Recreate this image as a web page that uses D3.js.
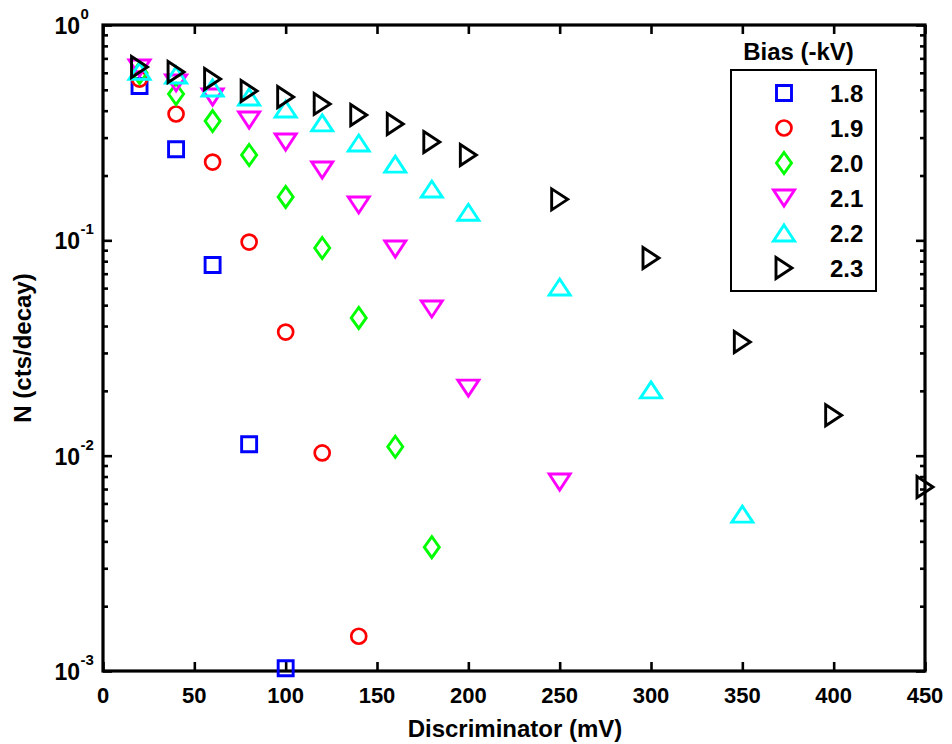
<!DOCTYPE html>
<html>
<head>
<meta charset="utf-8">
<script src="https://cdn.jsdelivr.net/npm/d3@7"></script>
<style>
  html, body { margin: 0; padding: 0; background: #fff; }
  svg { display: block; font-family: "Liberation Sans", Arial, Helvetica, sans-serif; font-weight: bold; }
</style>
</head>
<body>
<svg id="chart" width="952" height="744"></svg>
<script>
// Discriminator threshold (mV) and counts per decay, one pair of arrays per bias voltage
const x18 = [20, 40, 60, 80, 100];
const y18 = [0.521, 0.265, 0.0768, 0.0113, 0.00103];

const x19 = [20, 40, 60, 80, 100, 120, 140];
const y19 = [0.561, 0.386, 0.231, 0.0982, 0.0375, 0.0103, 0.00145];

const x20 = [20, 40, 60, 80, 100, 120, 140, 160, 180];
const y20 = [0.598, 0.478, 0.358, 0.249, 0.159, 0.0921, 0.0436, 0.0110, 0.00376];

const x21 = [20, 40, 60, 80, 100, 120, 140, 160, 180, 200, 250];
const y21 = [0.631, 0.538, 0.463, 0.362, 0.286, 0.212, 0.146, 0.0911, 0.0480, 0.0206, 0.00754];

const x22 = [20, 40, 60, 80, 100, 120, 140, 160, 180, 200, 250, 300, 350];
const y22 = [0.61, 0.586, 0.510, 0.463, 0.407, 0.351, 0.283, 0.226, 0.173, 0.135, 0.0607, 0.0202, 0.00535];

const x23 = [20, 40, 60, 80, 100, 120, 140, 160, 180, 200, 250, 300, 350, 400, 450];
const y23 = [0.638, 0.605, 0.561, 0.494, 0.463, 0.430, 0.382, 0.347, 0.286, 0.249, 0.155, 0.0828, 0.0337, 0.0154, 0.00715];

const biasLabels = ["1.8", "1.9", "2.0", "2.1", "2.2", "2.3"];
const xTickValues = [0, 50, 100, 150, 200, 250, 300, 350, 400, 450];
const yDecadeExponents = [0, -1, -2, -3];

const seriesX = [x18, x19, x20, x21, x22, x23];
const seriesY = [y18, y19, y20, y21, y22, y23];
const colors = ["#0000ff", "#ff0000", "#00ff00", "#ff00ff", "#00ffff", "#000000"];
const shapes = ["square", "circle", "diamond", "down", "up", "right"];

const svg = d3.select("#chart");
const plotLeft = 103, plotRight = 925, plotTop = 25, plotBottom = 671;

const x = d3.scaleLinear().domain([0, 450]).range([plotLeft, plotRight]);
const y = d3.scaleLog().domain([1e-3, 1]).range([plotBottom, plotTop]);

// marker outline paths, centred on the data point
function markerPath(shape) {
  switch (shape) {
    case "square": return "M-7.5,-7.5H7.5V7.5H-7.5Z";
    case "diamond": return "M0,-10.5L7.5,0L0,10.5L-7.5,0Z";
    case "down": return "M-10.5,-8L10.5,-8L0,8Z";
    case "up": return "M0,-8L10.5,8L-10.5,8Z";
    case "right": return "M-8,-10.5L8,0L-8,10.5Z";
  }
  return null;
}

function drawMarker(g, shape, color) {
  if (shape === "circle") {
    g.append("circle").attr("r", 7.5)
      .attr("fill", "none").attr("stroke", color).attr("stroke-width", 2.7);
  } else {
    g.append("path").attr("d", markerPath(shape))
      .attr("fill", "none").attr("stroke", color).attr("stroke-width", 2.9)
      .attr("stroke-linejoin", "miter");
  }
}

// minor log ticks (2..9 per decade)
const minorTicks = [];
for (let e = -3; e < 0; e++) {
  for (let m = 2; m <= 9; m++) minorTicks.push(m * Math.pow(10, e));
}
const majorTicks = yDecadeExponents.map(e => Math.pow(10, e));

const axes = svg.append("g").attr("class", "axes");

function styleAxis(g) {
  g.select(".domain").remove();
  g.selectAll(".tick line").attr("stroke", "#000").attr("stroke-width", 2.6);
}

// x axis: bottom and mirrored top, ticks pointing inward
axes.append("g").attr("transform", `translate(0,${plotBottom})`)
  .call(d3.axisBottom(x).tickValues(xTickValues).tickSize(-9).tickSizeOuter(0).tickFormat(""))
  .call(styleAxis);
axes.append("g").attr("transform", `translate(0,${plotTop})`)
  .call(d3.axisTop(x).tickValues(xTickValues).tickSize(-9).tickSizeOuter(0).tickFormat(""))
  .call(styleAxis);

// y axis: major and minor ticks on both sides
axes.append("g").attr("transform", `translate(${plotLeft},0)`)
  .call(d3.axisLeft(y).tickValues(majorTicks).tickSize(-9).tickSizeOuter(0).tickFormat(""))
  .call(styleAxis);
axes.append("g").attr("transform", `translate(${plotLeft},0)`)
  .call(d3.axisLeft(y).tickValues(minorTicks).tickSize(-5).tickSizeOuter(0).tickFormat(""))
  .call(styleAxis);
axes.append("g").attr("transform", `translate(${plotRight},0)`)
  .call(d3.axisRight(y).tickValues(majorTicks).tickSize(-9).tickSizeOuter(0).tickFormat(""))
  .call(styleAxis);
axes.append("g").attr("transform", `translate(${plotRight},0)`)
  .call(d3.axisRight(y).tickValues(minorTicks).tickSize(-5).tickSizeOuter(0).tickFormat(""))
  .call(styleAxis);

// plot box
axes.append("rect")
  .attr("x", plotLeft).attr("y", plotTop)
  .attr("width", plotRight - plotLeft).attr("height", plotBottom - plotTop)
  .attr("fill", "none").attr("stroke", "#000").attr("stroke-width", 3.2);

// x tick labels
axes.append("g").selectAll("text").data(xTickValues).join("text")
  .attr("x", d => x(d)).attr("y", plotBottom + 32)
  .attr("text-anchor", "middle").attr("font-size", 22)
  .text(d => d);

// y tick labels as powers of ten: base and raised exponent
const yLab = axes.append("g").selectAll("g").data(yDecadeExponents).join("g")
  .attr("transform", d => `translate(${plotLeft - 23},${y(Math.pow(10, d))})`);
yLab.append("text")
  .attr("x", 0).attr("y", 9)
  .attr("text-anchor", "end").attr("font-size", 23)
  .text("10");
yLab.append("text")
  .attr("x", 0.5).attr("y", -6)
  .attr("font-size", 15)
  .text(d => d);

// axis titles
svg.append("text")
  .attr("x", (plotLeft + plotRight) / 2 + 1).attr("y", 737)
  .attr("text-anchor", "middle").attr("font-size", 24)
  .text("Discriminator (mV)");
svg.append("text")
  .attr("transform", `translate(31,${(plotTop + plotBottom) / 2}) rotate(-90)`)
  .attr("text-anchor", "middle").attr("font-size", 24)
  .text("N (cts/decay)");

// data markers, drawn series by series
const plot = svg.append("g").attr("class", "data");
seriesX.forEach((xs, i) => {
  const pts = xs.map((xv, j) => [xv, seriesY[i][j]]);
  plot.append("g").selectAll("g").data(pts).join("g")
    .attr("transform", d => `translate(${x(d[0])},${y(d[1])})`)
    .each(function () { drawMarker(d3.select(this), shapes[i], colors[i]); });
});

// legend
const legend = svg.append("g").attr("class", "legend");
legend.append("text")
  .attr("x", 798.5).attr("y", 60)
  .attr("text-anchor", "middle").attr("font-size", 24)
  .text("Bias (-kV)");
legend.append("rect")
  .attr("x", 731).attr("y", 70).attr("width", 145).attr("height", 221)
  .attr("fill", "#fff").attr("stroke", "#000").attr("stroke-width", 2);
biasLabels.forEach((lab, i) => {
  const ry = 93 + i * 35;
  const g = legend.append("g").attr("transform", `translate(784,${ry})`);
  drawMarker(g, shapes[i], colors[i]);
  legend.append("text")
    .attr("x", 830).attr("y", ry + 8.5)
    .attr("font-size", 24)
    .text(lab);
});
</script>
</body>
</html>
